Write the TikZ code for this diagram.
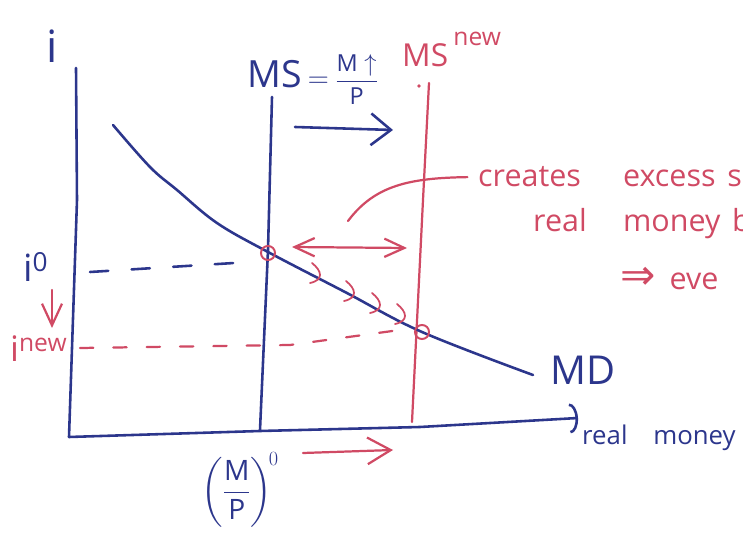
\documentclass[tikz,border=0pt]{standalone}
\usepackage{amsmath}
\usepackage{fontspec}
\setmainfont{Open Sans}
\newfontfamily\arrowfont{DejaVu Sans}
\usepackage{tikz}
\usetikzlibrary{arrows.meta, positioning}
\definecolor{penblue}{RGB}{44,54,140}
\definecolor{penred}{RGB}{208,74,100}
\newcommand{\handsize}[1]{\fontsize{#1}{#1}\selectfont}
\tikzset{
  ink/.style={line width=2.2pt, line cap=round, line join=round},
  blueink/.style={ink, draw=penblue},
  redink/.style={ink, draw=penred, line width=1.9pt},
  lbl/.style={inner sep=0pt, anchor=base west},
  bluelbl/.style={lbl, text=penblue},
  redlbl/.style={lbl, text=penred},
  barb/.style={-{Straight Barb[length=#1]}},
}

\begin{document}
\begin{tikzpicture}[x=0.03cm, y=-0.03cm]
  \useasboundingbox (0,0) rectangle (743,540);

  % axes
  \coordinate (origin) at (69,437);
  \coordinate (ytop) at (76,68);
  \coordinate (xend) at (578,418);
  \draw[blueink] (ytop) -- (77,200) -- (origin);
  \draw[blueink, -{Arc Barb[length=2.5mm, width=9mm]}] (origin) -- (260,431) -- (420,427) -- (xend);
  \node[bluelbl, anchor=base, font=\handsize{38}] (ilabel) at (52,63) {i};
  \node[bluelbl, font=\handsize{22}] (xlabel) at (582,445) {real\hspace{22pt}money};

  % money supply, old and new
  \coordinate (msoldtop) at (272,97);
  \coordinate (msoldbot) at (260,430);
  \draw[blueink] (msoldtop) -- (268,250) -- (msoldbot);
  \node[bluelbl, font=\handsize{32}] (msold) at (247,88) {MS\,$=$\,{\handsize{20}$\dfrac{\text{M}\uparrow}{\text{P}}$}};
  \coordinate (msnewtop) at (429,83);
  \coordinate (msnewbot) at (412,422);
  \draw[redink] (msnewtop) -- (423,200) -- (msnewbot);
  \fill[penred] (419,86) circle (1.5pt);
  \node[redlbl, font=\handsize{27}] (msnew) at (402,67) {MS\,\raisebox{18pt}{\handsize{21}new}};

  % money demand
  \draw[blueink] plot[smooth, tension=0.6] coordinates {(113,125) (150,167) (177,190) (217,223) (268,252) (345,292) (422,332) (533,375)};
  \node[bluelbl, font=\handsize{34}] (md) at (550,385) {MD};

  % equilibria
  \coordinate (eqold) at (268,253);
  \coordinate (eqnew) at (422,332);
  \draw[redink, line width=1.7pt] (eqold) circle (6pt);
  \draw[redink, line width=1.7pt] (eqnew) circle (6pt);

  % shifts
  \draw[blueink, barb={6mm, width=9.5mm}] (295,127) -- (393,130);
  \draw[redink, barb={7mm, width=8mm}] (303,453) -- (393,450);

  % interest rate levels
  \draw[blueink, dash pattern=on 5.5mm off 7mm] (90,272) -- (250,262);
  \draw[redink, dash pattern=on 4mm off 6mm] (80,348) -- (290,345) -- (407,329);
  \node[bluelbl, font=\handsize{32}] (izero) at (23,282) {i\textsuperscript{0}};
  \node[redlbl, font=\handsize{30}] (inew) at (10,362) {i\textsuperscript{new}};
  \coordinate (dropfrom) at (52,290);
  \coordinate (dropto) at (52,328);
  \draw[redink, barb={6.5mm, width=6mm}] (dropfrom) -- (dropto);

  % excess supply between the lines
  \draw[redink, {Straight Barb[length=6mm, width=5.5mm]}-{Straight Barb[length=6mm, width=5.5mm]}] (292,247) -- (407,248);
  \foreach \cx/\cy in {318/275, 352/293, 378/305, 403/316}
    \draw[redink, line width=1.5pt] (\cx-6,\cy-12) .. controls (\cx+4,\cy-4) and (\cx+6,\cy+5) .. (\cx-8,\cy+8);

  % note
  \node[redlbl, font=\handsize{26}] (note1) at (478,187) {creates\hspace{36pt}excess\hspace{10pt}s};
  \node[redlbl, font=\handsize{26}] (note2) at (533,232) {real\hspace{31pt}money\hspace{10pt}b};
  \node[redlbl, font=\handsize{26}] (note3) at (620,290) {{\arrowfont\handsize{36}⇒}\hspace{12pt}eve};
  \draw[redink] (348,221) .. controls (375,185) and (410,178) .. ([xshift=-9pt]note1.west);

  % initial real money
  \node[text=penblue, inner sep=0pt, font=\handsize{24}] (mzero) at (240,490) {$\left(\dfrac{\text{M}}{\text{P}}\right)^{\!0}$};
\end{tikzpicture}
\end{document}
